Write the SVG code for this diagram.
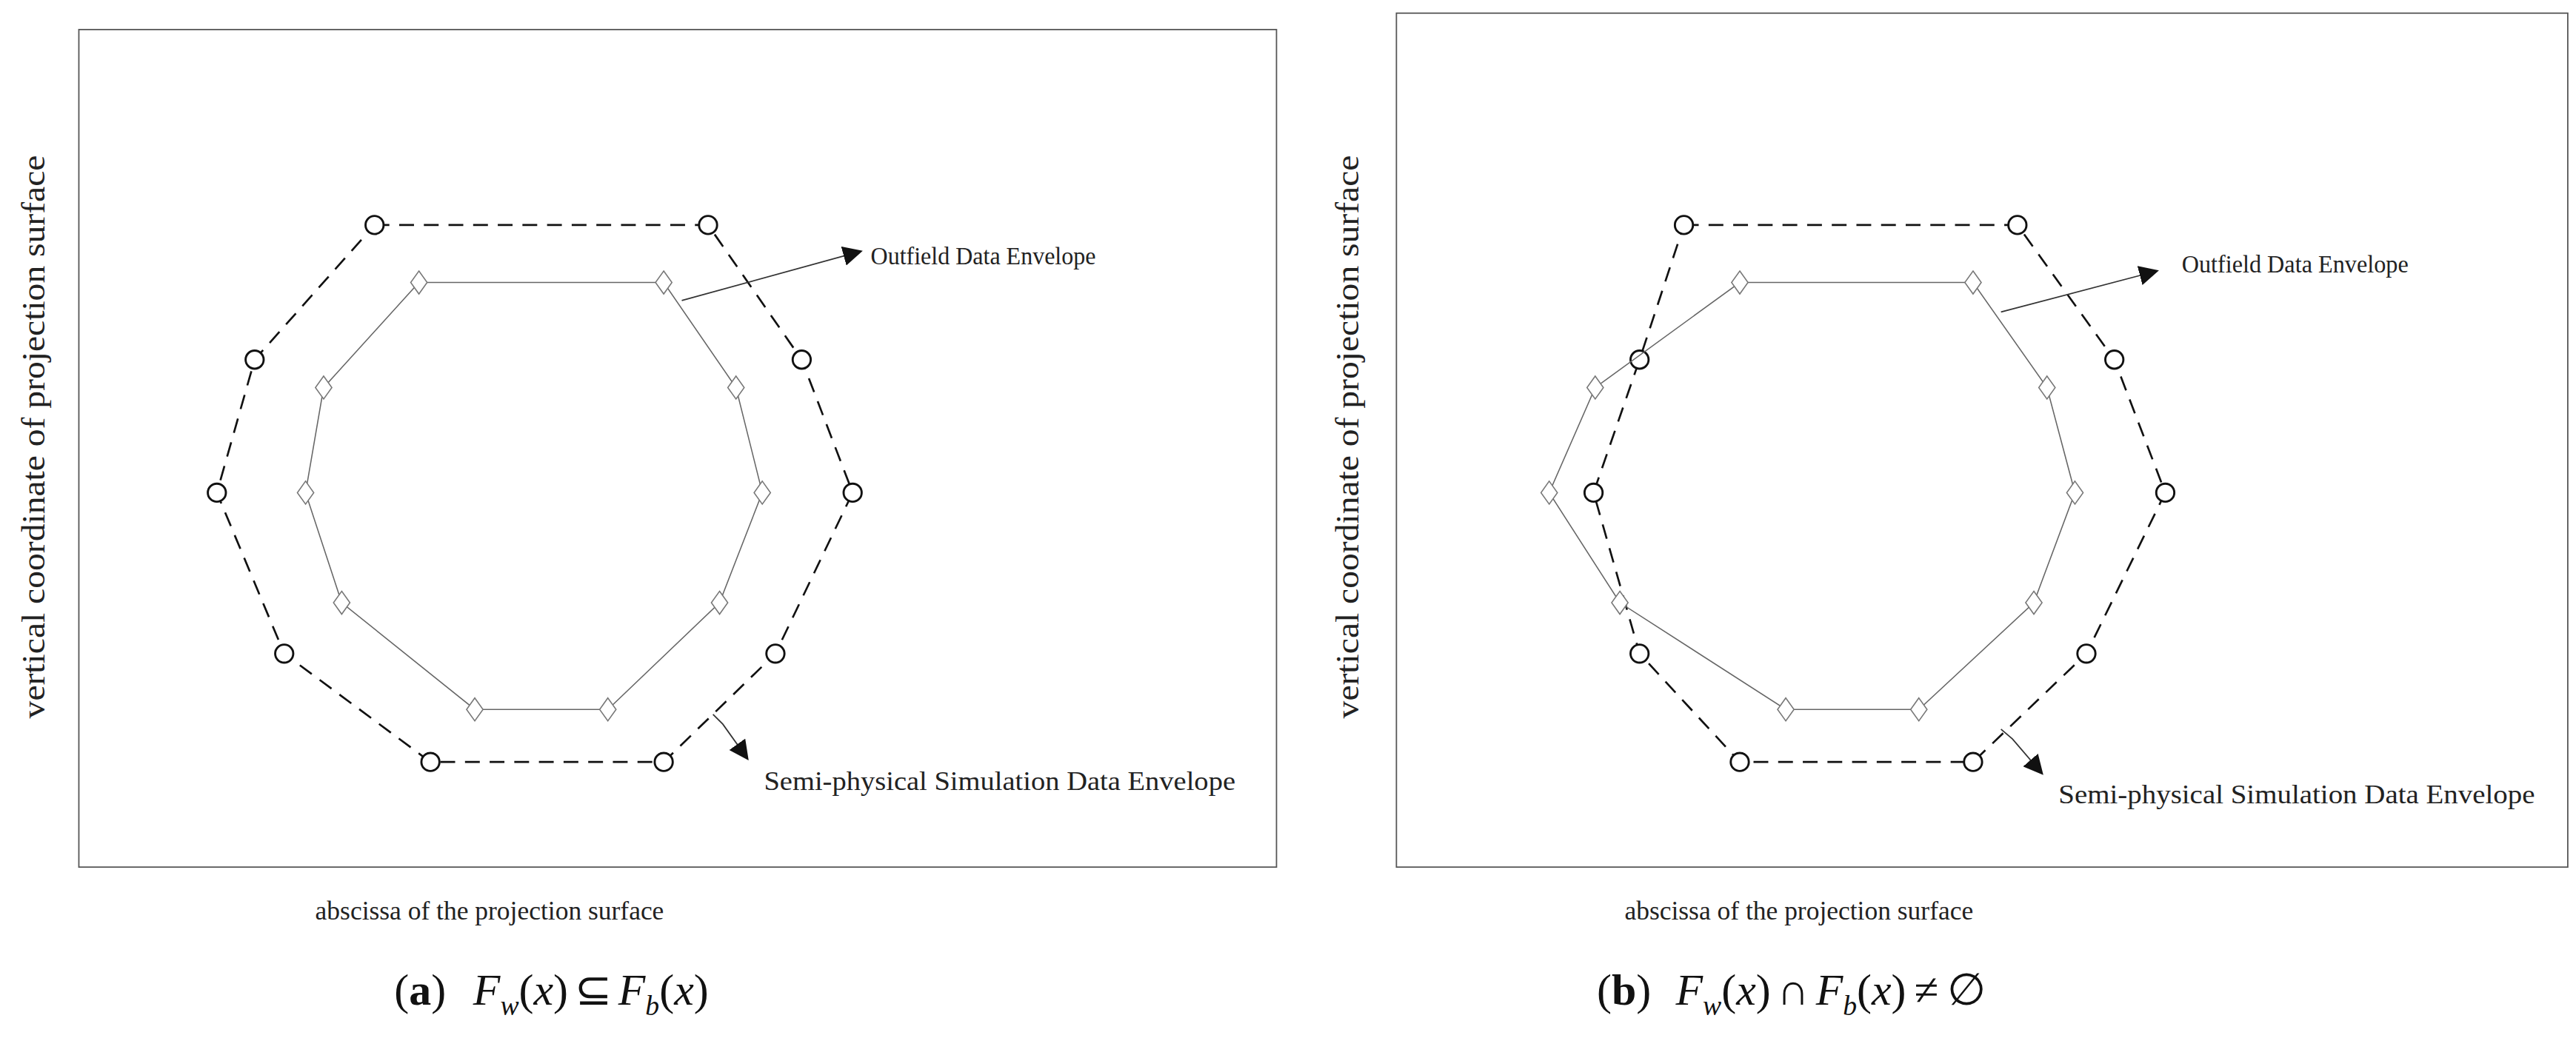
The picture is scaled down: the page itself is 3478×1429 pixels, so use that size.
<svg xmlns="http://www.w3.org/2000/svg" width="3478" height="1429" viewBox="0 0 3478 1429">
<defs>
<style>
.frame{fill:none;stroke:#555;stroke-width:0.8}
.outer{fill:none;stroke:#111;stroke-width:1.2;stroke-dasharray:9,6}
.inner{fill:none;stroke:#666;stroke-width:0.7}
.circ{fill:#fff;stroke:#111;stroke-width:1.3}
.dia{fill:#fff;stroke:#777;stroke-width:0.7}
.conn{fill:none;stroke:#333;stroke-width:0.8}
.lbl{font-family:"Liberation Serif",serif;font-size:15px;fill:#222}
.lbl2{font-family:"Liberation Serif",serif;font-size:16.5px;fill:#222}
.ax{font-family:"Liberation Serif",serif;font-size:16px;fill:#222}
.axv{font-family:"Liberation Serif",serif;font-size:20px;fill:#222}
.cap{font-family:"Liberation Serif",serif;font-size:27px;fill:#111}
</style>
<marker id="ah" viewBox="0 0 10 10" refX="9" refY="5" markerWidth="12" markerHeight="12" markerUnits="userSpaceOnUse" orient="auto"><path d="M0,0 L10,5 L0,10 z" fill="#111"/></marker>
<symbol id="d" overflow="visible"><path d="M0,-7 L5,0 L0,7 L-5,0 z"/></symbol>
</defs>
<rect width="3478" height="1429" fill="#fff"/>
<g transform="scale(2.2181)">
<g id="panel-a">
<rect class="frame" x="48" y="18" width="729" height="510"/>
<g id="outer-a"><polygon class="outer" points="228,137 431,137 488,219 519,300 472,398 404,464 262,464 173,398 132,300 155,219"/>
<g class="circ"><circle cx="228" cy="137" r="5.5"/><circle cx="431" cy="137" r="5.5"/><circle cx="488" cy="219" r="5.5"/><circle cx="519" cy="300" r="5.5"/><circle cx="472" cy="398" r="5.5"/><circle cx="404" cy="464" r="5.5"/><circle cx="262" cy="464" r="5.5"/><circle cx="173" cy="398" r="5.5"/><circle cx="132" cy="300" r="5.5"/><circle cx="155" cy="219" r="5.5"/></g></g>
<g id="inner-a"><polygon class="inner" points="255,172 404,172 448,236 464,300 438,367 370,432 289,432 208,367 186,300 197,236"/>
<g class="dia"><use href="#d" x="255" y="172"/><use href="#d" x="404" y="172"/><use href="#d" x="448" y="236"/><use href="#d" x="464" y="300"/><use href="#d" x="438" y="367"/><use href="#d" x="370" y="432"/><use href="#d" x="289" y="432"/><use href="#d" x="208" y="367"/><use href="#d" x="186" y="300"/><use href="#d" x="197" y="236"/></g></g>
<text class="lbl" x="530" y="161" textLength="137" lengthAdjust="spacingAndGlyphs">Outfield  Data Envelope</text>
<text class="lbl2" x="465" y="481" textLength="287" lengthAdjust="spacingAndGlyphs">Semi-physical Simulation Data Envelope</text>
<text class="ax" x="298" y="560" text-anchor="middle">abscissa of the projection surface</text>
<text class="axv" transform="translate(27,266) rotate(-90)" text-anchor="middle" textLength="343" lengthAdjust="spacingAndGlyphs">vertical coordinate of projection surface</text>
<text class="cap" y="612"><tspan x="240">(</tspan><tspan font-weight="bold">a</tspan>)<tspan x="288" font-style="italic">F</tspan><tspan font-style="italic" font-size="17" dy="6">w</tspan><tspan dy="-6">(</tspan><tspan font-style="italic">x</tspan>)<tspan dx="4">⊆</tspan><tspan dx="4" font-style="italic">F</tspan><tspan font-style="italic" font-size="17" dy="6">b</tspan><tspan dy="-6">(</tspan><tspan font-style="italic">x</tspan>)</text>
</g>
<g id="panel-b">
<rect class="frame" x="850" y="8" width="713" height="520"/>
<g id="outer-b"><polygon class="outer" points="1025,137 1228,137 1287,219 1318,300 1270,398 1201,464 1059,464 998,398 970,300 998,219"/>
<g class="circ"><circle cx="1025" cy="137" r="5.5"/><circle cx="1228" cy="137" r="5.5"/><circle cx="1287" cy="219" r="5.5"/><circle cx="1318" cy="300" r="5.5"/><circle cx="1270" cy="398" r="5.5"/><circle cx="1201" cy="464" r="5.5"/><circle cx="1059" cy="464" r="5.5"/><circle cx="998" cy="398" r="5.5"/><circle cx="970" cy="300" r="5.5"/><circle cx="998" cy="219" r="5.5"/></g></g>
<g id="inner-b"><polygon class="inner" points="1059,172 1201,172 1246,236 1263,300 1238,367 1168,432 1087,432 986,367 943,300 971,236"/>
<g class="dia"><use href="#d" x="1059" y="172"/><use href="#d" x="1201" y="172"/><use href="#d" x="1246" y="236"/><use href="#d" x="1263" y="300"/><use href="#d" x="1238" y="367"/><use href="#d" x="1168" y="432"/><use href="#d" x="1087" y="432"/><use href="#d" x="986" y="367"/><use href="#d" x="943" y="300"/><use href="#d" x="971" y="236"/></g></g>
<text class="lbl" x="1328" y="166" textLength="138" lengthAdjust="spacingAndGlyphs">Outfield Data Envelope</text>
<text class="lbl2" x="1253" y="489" textLength="290" lengthAdjust="spacingAndGlyphs">Semi-physical Simulation Data Envelope</text>
<text class="ax" x="1095" y="560" text-anchor="middle">abscissa of the projection surface</text>
<text class="axv" transform="translate(827,266) rotate(-90)" text-anchor="middle" textLength="343" lengthAdjust="spacingAndGlyphs">vertical coordinate of projection surface</text>
<text class="cap" y="612"><tspan x="972">(</tspan><tspan font-weight="bold">b</tspan>)<tspan x="1020" font-style="italic">F</tspan><tspan font-style="italic" font-size="17" dy="6">w</tspan><tspan dy="-6">(</tspan><tspan font-style="italic">x</tspan>)<tspan dx="4">∩</tspan><tspan dx="4" font-style="italic">F</tspan><tspan font-style="italic" font-size="17" dy="6">b</tspan><tspan dy="-6">(</tspan><tspan font-style="italic">x</tspan>)<tspan dx="5">≠</tspan><tspan dx="5">∅</tspan></text>
</g>
<g id="connectors">
<line class="conn" x1="415" y1="183" x2="524" y2="153" marker-end="url(#ah)"/>
<polyline class="conn" points="434,435 440,441 455,462" marker-end="url(#ah)"/>
<line class="conn" x1="1218" y1="190" x2="1313" y2="165" marker-end="url(#ah)"/>
<polyline class="conn" points="1218,444 1225,450 1243,471" marker-end="url(#ah)"/>
</g>
</g>
</svg>
